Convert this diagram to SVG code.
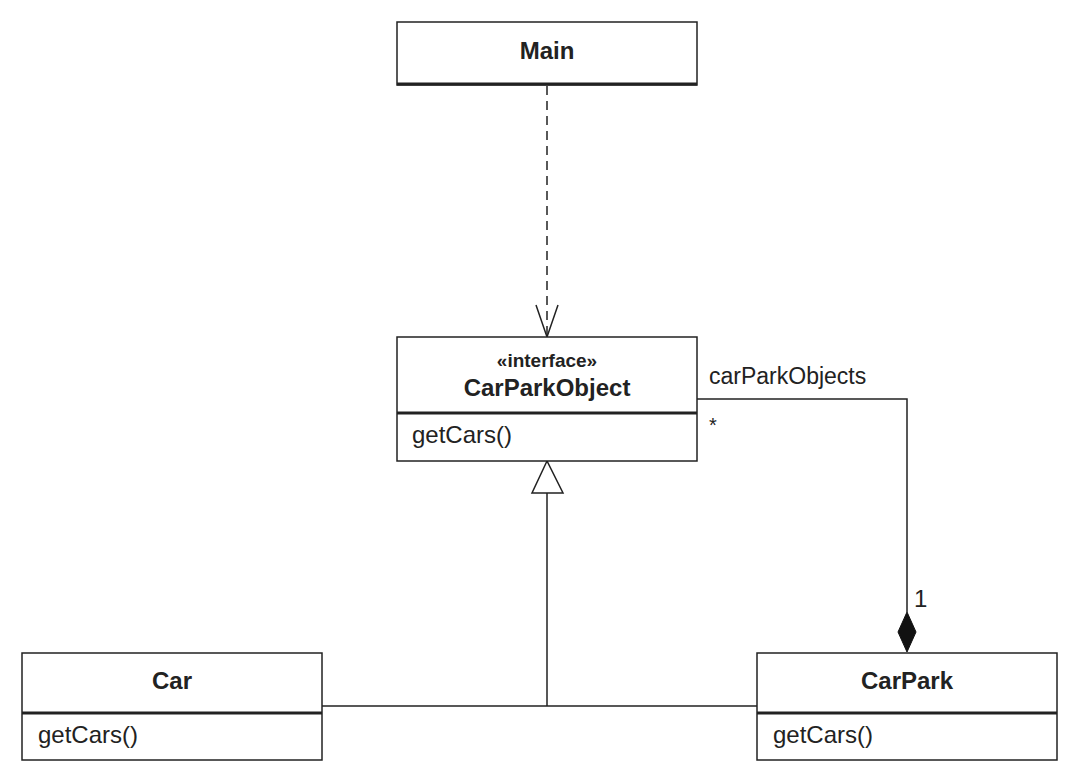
<svg xmlns="http://www.w3.org/2000/svg" width="1080" height="783" viewBox="0 0 1080 783">
<style>
.box{fill:#fff;stroke:#222;stroke-width:1.5}
.sep{stroke:#222;stroke-width:3}
.t{font-family:"Liberation Sans",Arial,sans-serif;fill:#222}
.b{font-weight:bold;font-size:24px;text-anchor:middle}
.m{font-size:24px}
.ln{fill:none;stroke:#222;stroke-width:1.5}
</style>
<rect width="1080" height="783" fill="#fff"/>
<g id="connectors">
<path class="ln" d="M547,86 V336" stroke-dasharray="9,6"/>
<path class="ln" d="M536,305 L547,337 L558,305"/>
<path class="ln" d="M547,493 V706 M322,706 H757"/>
<path d="M547,461 L532,493 H563 Z" fill="#fff" stroke="#222" stroke-width="1.5"/>
<path class="ln" d="M697,399 H907 V612"/>
<path d="M907,612 L916,632 L907,652 L898,632 Z" fill="#111" stroke="#111" stroke-width="1"/>
<text class="t" x="709" y="384" font-size="23">carParkObjects</text>
<text class="t" x="709" y="432" font-size="20">*</text>
<text class="t" x="914" y="607" font-size="24">1</text>
</g>
<g id="Main">
<rect class="box" x="397" y="22" width="300" height="63"/>
<line class="sep" x1="397" y1="84" x2="697" y2="84"/>
<text class="t b" x="547" y="59">Main</text>
</g>
<g id="CarParkObject">
<rect class="box" x="397" y="337" width="300" height="124"/>
<line class="sep" x1="397" y1="413" x2="697" y2="413"/>
<text class="t" x="547" y="367" font-size="19" font-weight="bold" text-anchor="middle">«interface»</text>
<text class="t b" x="547" y="396">CarParkObject</text>
<text class="t m" x="412" y="443">getCars()</text>
</g>
<g id="Car">
<rect class="box" x="22" y="653" width="300" height="107"/>
<line class="sep" x1="22" y1="713" x2="322" y2="713"/>
<text class="t b" x="172" y="689">Car</text>
<text class="t m" x="38" y="743">getCars()</text>
</g>
<g id="CarPark">
<rect class="box" x="757" y="653" width="300" height="107"/>
<line class="sep" x1="757" y1="713" x2="1057" y2="713"/>
<text class="t b" x="907" y="689">CarPark</text>
<text class="t m" x="773" y="743">getCars()</text>
</g>
</svg>
